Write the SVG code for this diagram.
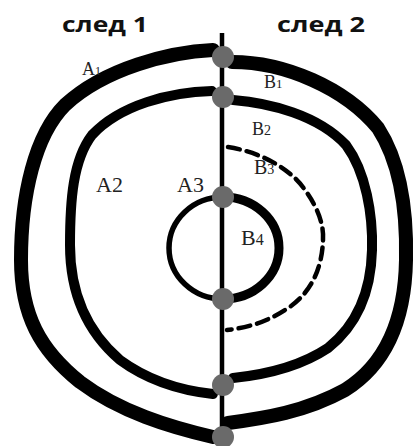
<svg xmlns="http://www.w3.org/2000/svg" width="418" height="446" viewBox="0 0 418 446">
<style>
.h{font-family:"Open Sans","Liberation Sans",sans-serif;font-weight:bold;font-size:22px;fill:#111}
.l{font-family:"Liberation Serif","Times New Roman",serif;fill:#222}
.c{fill:none;stroke:#000;stroke-linecap:round;stroke-linejoin:round}
.d{fill:#6a6a6a}
</style>
<rect width="418" height="446" fill="#fff"/>
<g id="titles">
<text class="h" x="62" y="32" textLength="86" lengthAdjust="spacingAndGlyphs">след 1</text>
<text class="h" x="277" y="32" textLength="88" lengthAdjust="spacingAndGlyphs">след 2</text>
</g>
<g id="connectors">
<path id="A1" class="c" stroke-width="14" d="M213,50 C170,52 105,68 65,105 C35,135 21,195 21,260 C21,315 40,350 80,382 C120,412 170,427 213,437"/>
<path id="B1" class="c" stroke-width="14" d="M232,62 C285,62 345,88 378,128 C402,165 407,215 406,260 C405,320 385,365 345,390 C305,412 265,418 228,423"/>
<path id="A2" class="c" stroke-width="10" d="M212,91 C170,92 120,105 92,135 C73,160 70,200 70,245 C70,290 85,330 120,360 C150,382 185,391 213,394"/>
<path id="B2" class="c" stroke-width="10" d="M233,100 C270,103 318,115 346,145 C366,172 373,215 372,250 C371,292 357,325 328,348 C298,368 262,375 233,378"/>
<path id="B3" class="c" stroke-width="4.5" stroke-dasharray="12 7" stroke-linecap="butt" d="M228,147 C260,152 290,168 305,190 C318,208 324,225 323,240 C322,270 310,295 285,310 C265,323 245,328 227,330"/>
<path id="A3" class="c" stroke-width="5.5" d="M223,197 A54,51 0 0 0 223,299"/>
<path id="B4" class="c" stroke-width="9" d="M223,197 A56,51 0 0 1 223,299"/>
<line id="axis" x1="222" y1="33" x2="222" y2="446" stroke="#000" stroke-width="4.5"/>
</g>
<g id="nodes">
<circle class="d" cx="223" cy="57" r="11"/>
<circle class="d" cx="223" cy="97" r="11"/>
<circle class="d" cx="223" cy="197" r="11"/>
<circle class="d" cx="223" cy="299" r="11"/>
<circle class="d" cx="223" cy="385" r="11"/>
<circle class="d" cx="223" cy="437" r="11"/>
</g>
<g id="labels">
<text class="l" x="82" y="75" font-size="18">A<tspan font-size="12">1</tspan></text>
<text class="l" x="264" y="88" font-size="18">B<tspan font-size="13">1</tspan></text>
<text class="l" x="252" y="135" font-size="18">B<tspan font-size="14">2</tspan></text>
<text class="l" x="254" y="174" font-size="20">B<tspan font-size="14">3</tspan></text>
<text class="l" x="241" y="245" font-size="22">B<tspan font-size="16">4</tspan></text>
<text class="l" x="96" y="192" font-size="22">A2</text>
<text class="l" x="177" y="192" font-size="22">A3</text>
</g>
</svg>
